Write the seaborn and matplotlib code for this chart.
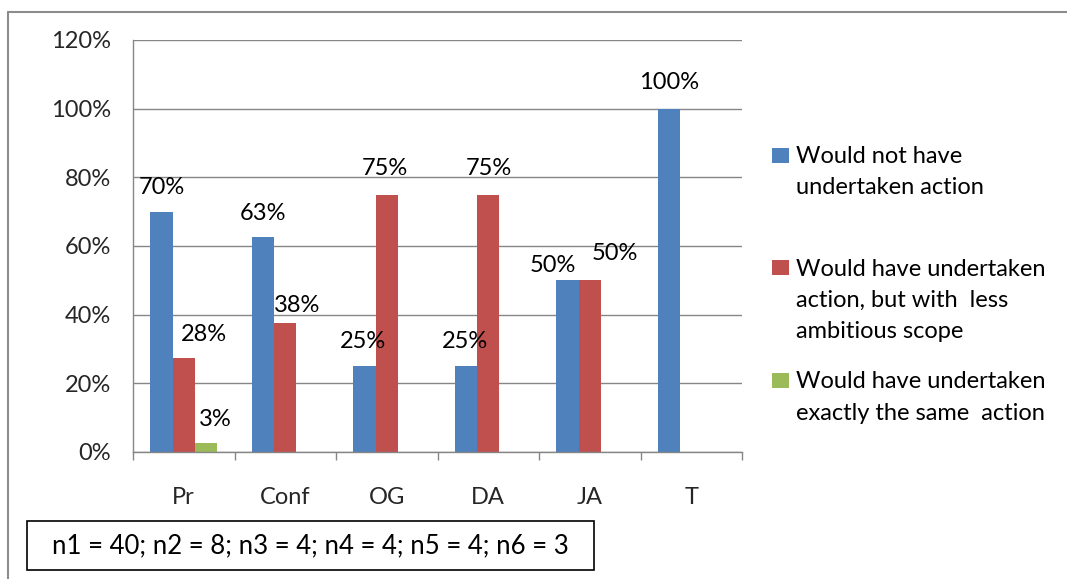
import math

import matplotlib
matplotlib.use("Agg")
import matplotlib.pyplot as plt
from matplotlib.lines import Line2D
from matplotlib.patches import Rectangle
from matplotlib.ticker import PercentFormatter, FixedLocator
import numpy as np
import pandas as pd
import seaborn as sns

# ---- data -------------------------------------------------------------
categories = ["Pr", "Conf", "OG", "DA", "JA", "T"]
series = [
    "Would not have undertaken action",
    "Would have undertaken action, but with less ambitious scope",
    "Would have undertaken exactly the same action",
]
legend_lines = [
    ["Would not have", "undertaken action"],
    ["Would have undertaken", "action, but with  less", "ambitious scope"],
    ["Would have undertaken", "exactly the same  action"],
]
not_undertaken = [70.0, 62.5, 25.0, 25.0, 50.0, 100.0]
less_ambitious = [27.5, 37.5, 75.0, 75.0, 50.0, 0.0]
same_action = [2.5, 0.0, 0.0, 0.0, 0.0, 0.0]
y_ticks = [0, 20, 40, 60, 80, 100, 120]
sample_note = "n1 = 40; n2 = 8; n3 = 4; n4 = 4; n5 = 4; n6 = 3"

# ---- styling ----------------------------------------------------------
colors = ["#4F81BD", "#C0504D", "#9BBB59"]
grid_gray = "#868686"
# per-label nudges (pixels) for the value labels: one row per series
label_dx = [[0, 0, -1, -1, -15, 0],
            [20, 12, -2, 1, 25, 0],
            [9, 0, 0, 0, 0, 0]]
label_dy = [[24, 24, 25, 25, 15, 26],
            [23, 18, 26, 26, 27, 0],
            [24, 0, 0, 0, 0, 0]]
FS = 17

sns.set_style("white")
plt.rcParams["font.family"] = ["Lato", "DejaVu Sans"]
plt.rcParams["text.color"] = "black"

W, H = 1067, 579
fig = plt.figure(figsize=(W / 100, H / 100), dpi=100)


def fx(px):
    return px / W


def fy(py):
    return 1 - py / H


ax = fig.add_axes([fx(133), fy(452), fx(742) - fx(133), fy(40) - fy(452)])

df = pd.DataFrame({
    "category": categories * 3,
    "series": sum([[s] * len(categories) for s in series], []),
    "value": not_undertaken + less_ambitious + same_action,
})

sns.barplot(data=df, x="category", y="value", hue="series",
            order=categories, hue_order=series, palette=colors,
            saturation=1, width=0.66, dodge=True, linewidth=0,
            legend=False, ax=ax, errorbar=None)

ax.set_ylim(0, 120)
ax.set_xlim(-0.5, len(categories) - 0.5)
ax.yaxis.set_major_locator(FixedLocator(y_ticks))
ax.yaxis.set_major_formatter(PercentFormatter(xmax=100, decimals=0))
ax.set_xlabel("")
ax.set_ylabel("")

ax.grid(axis="y", color=grid_gray, linewidth=1.0)
ax.set_axisbelow(True)
for side in ["top", "right"]:
    ax.spines[side].set_visible(False)
for side in ["left", "bottom"]:
    ax.spines[side].set_color(grid_gray)
    ax.spines[side].set_linewidth(1.0)

ax.tick_params(axis="y", which="major", direction="out", length=5,
               width=1.0, color=grid_gray, pad=11, labelsize=FS)
ax.set_xticks(np.arange(-0.5, len(categories)), minor=True)
ax.tick_params(axis="x", which="minor", direction="out", length=6,
               width=1.0, color=grid_gray, bottom=True)
ax.tick_params(axis="x", which="major", length=0, pad=25, labelsize=FS)


def pct_label(v):
    return f"{math.floor(v + 0.5)}%"


for i, container in enumerate(ax.containers):
    for j, bar in enumerate(container):
        v = bar.get_height()
        if v <= 0:
            continue
        ax.annotate(pct_label(v),
                    xy=(bar.get_x() + bar.get_width() / 2, v),
                    xytext=(label_dx[i][j], label_dy[i][j]),
                    textcoords="offset pixels",
                    ha="center", va="center", fontsize=FS,
                    annotation_clip=False)

# ---- legend drawn beside the plot -------------------------------------
key_centers = [155, 267.5, 380.5]
line_step = 31.5
for k, lines in enumerate(legend_lines):
    cy = key_centers[k]
    fig.add_artist(Rectangle((fx(772), fy(cy + 7.5)), fx(17), 15 / H,
                             transform=fig.transFigure,
                             facecolor=colors[k], edgecolor="none"))
    for n, line in enumerate(lines):
        fig.text(fx(796), fy(cy + 8 + n * line_step), line,
                 ha="left", va="baseline", fontsize=FS)

# ---- sample-size note in a box ----------------------------------------
fig.add_artist(Rectangle((fx(27), fy(570)), fx(594) - fx(27),
                         fy(521) - fy(570), transform=fig.transFigure,
                         facecolor="white", edgecolor="black",
                         linewidth=1.2))
fig.text(fx(310.5), fy(546), sample_note, ha="center", va="center",
         fontsize=18.5)

# ---- chart area frame ---------------------------------------------------
frame_kw = dict(transform=fig.transFigure, color="#8c8c8c", linewidth=1.5)
fig.add_artist(Line2D([fx(8), fx(8)], [fy(12), 0], **frame_kw))
fig.add_artist(Line2D([fx(8), 1], [fy(12), fy(12)], **frame_kw))

fig.savefig("out.png", dpi=100)
